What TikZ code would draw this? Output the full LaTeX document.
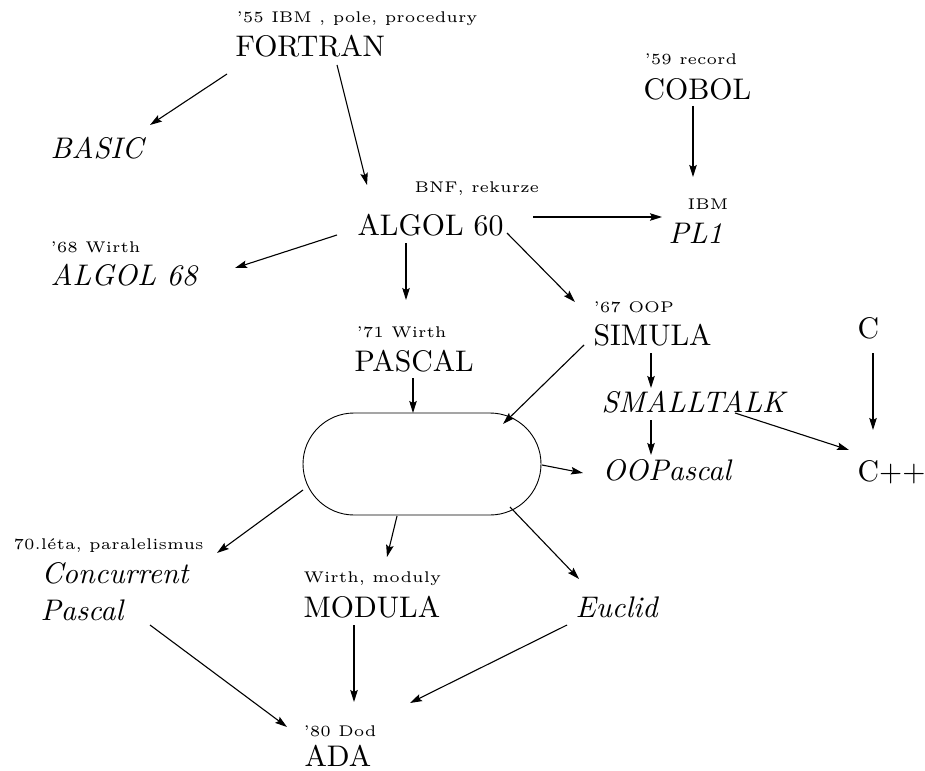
\documentclass[tikz,border=0pt]{standalone}
\usetikzlibrary{arrows.meta,shapes.misc}
\begin{document}
\begin{tikzpicture}[x=1pt,y=-1pt,
  big/.style={anchor=base west, inner sep=0pt, scale=2.98, font=\fontsize{10}{12}\selectfont},
  bigit/.style={big, font=\fontsize{10}{12}\selectfont\itshape},
  note/.style={anchor=base west, inner sep=0pt, scale=3.1, font=\fontsize{5}{6}\selectfont},
  arr/.style={-{Stealth[length=12pt,width=7.5pt,inset=2pt]}, line width=1.1pt}]
\useasboundingbox (0,0) rectangle (925,770);
% texts
\node[note] (n55) at (236,22.5) {'55 IBM , pole, procedury};
\node[big] (fortran) at (235,57) {FORTRAN};
\node[bigit] (basic) at (50,158) {BASIC};
\node[note] (n59) at (644,65) {'59 record};
\node[big] (cobol) at (643,100) {COBOL};
\node[note] (nbnf) at (414,192) {BNF, rekurze};
\node[big] (algol60) at (357,235) {ALGOL 60};
\node[note] (nibm) at (687,209) {IBM};
\node[bigit] (pl1) at (668,243) {PL1};
\node[note] (n68) at (50,252) {'68 Wirth};
\node[bigit] (algol68) at (50,285) {ALGOL 68};
\node[note] (n71) at (356,337) {'71 Wirth};
\node[big] (pascal) at (354,371) {PASCAL};
\node[note] (n67) at (593,312) {'67 OOP};
\node[big] (simula) at (593,345) {SIMULA};
\node[big] (c) at (857,338) {C};
\node[bigit] (smalltalk) at (601,412) {SMALLTALK};
\node[bigit] (oopascal) at (602,480) {OOPascal};
\node[big] (cpp) at (857,481) {C++};
\node[note] (n70) at (13,549) {70.léta, paralelismus};
\node[bigit] (concurrent) at (41,583) {Concurrent};
\node[bigit] (cpascal) at (40,620) {Pascal};
\node[note] (nwirth) at (303,582) {Wirth, moduly};
\node[big] (modula) at (303,617) {MODULA};
\node[bigit] (euclid) at (575,617) {Euclid};
\node[note] (n80) at (303,736) {'80 Dod};
\node[big] (ada) at (304,766) {ADA};
% box
\node[draw, rounded rectangle, line width=0.9pt, minimum width=238pt, minimum height=102pt, inner sep=0pt] (box) at (422,464) {};
% arrow endpoints
\coordinate (fo1) at (227,74);  \coordinate (ba1) at (150,125);
\coordinate (fo2) at (337,65);  \coordinate (al1) at (367,185);
\coordinate (co1) at (693,106); \coordinate (pl1a) at (693,177);
\coordinate (al2) at (533,217); \coordinate (pl1b) at (662,217);
\coordinate (al3) at (337,235); \coordinate (a68) at (235,268);
\coordinate (al4) at (406,243); \coordinate (pa1) at (406,300);
\coordinate (al5) at (507,233); \coordinate (si1) at (575,302);
\coordinate (pa2) at (413,378); \coordinate (bx1) at (413,413);
\coordinate (si2) at (584,345); \coordinate (bx2) at (503,424);
\coordinate (si3) at (651,353); \coordinate (sm1) at (651,388);
\coordinate (sm2) at (651,420); \coordinate (oo1) at (651,455);
\coordinate (c1) at (873,353);  \coordinate (cp1) at (873,430);
\coordinate (sm3) at (735,413); \coordinate (cp2) at (849,450);
\coordinate (bx3) at (542,465); \coordinate (oo2) at (583,473);
\coordinate (bx4) at (303,490); \coordinate (cc1) at (217,553);
\coordinate (bx5) at (397,516); \coordinate (mo1) at (387,557);
\coordinate (bx6) at (510,507); \coordinate (eu1) at (579,579);
\coordinate (cc2) at (150,625); \coordinate (ad1) at (287,727);
\coordinate (mo2) at (354,625); \coordinate (ad2) at (354,702);
\coordinate (eu2) at (567,625); \coordinate (ad3) at (410,703);
% arrows
\draw[arr] (fo1) -- (ba1);
\draw[arr] (fo2) -- (al1);
\draw[arr] (co1) -- (pl1a);
\draw[arr] (al2) -- (pl1b);
\draw[arr] (al3) -- (a68);
\draw[arr] (al4) -- (pa1);
\draw[arr] (al5) -- (si1);
\draw[arr] (pa2) -- (bx1);
\draw[arr] (si2) -- (bx2);
\draw[arr] (si3) -- (sm1);
\draw[arr] (sm2) -- (oo1);
\draw[arr] (c1) -- (cp1);
\draw[arr] (sm3) -- (cp2);
\draw[arr] (bx3) -- (oo2);
\draw[arr] (bx4) -- (cc1);
\draw[arr] (bx5) -- (mo1);
\draw[arr] (bx6) -- (eu1);
\draw[arr] (cc2) -- (ad1);
\draw[arr] (mo2) -- (ad2);
\draw[arr] (eu2) -- (ad3);
\end{tikzpicture}
\end{document}
